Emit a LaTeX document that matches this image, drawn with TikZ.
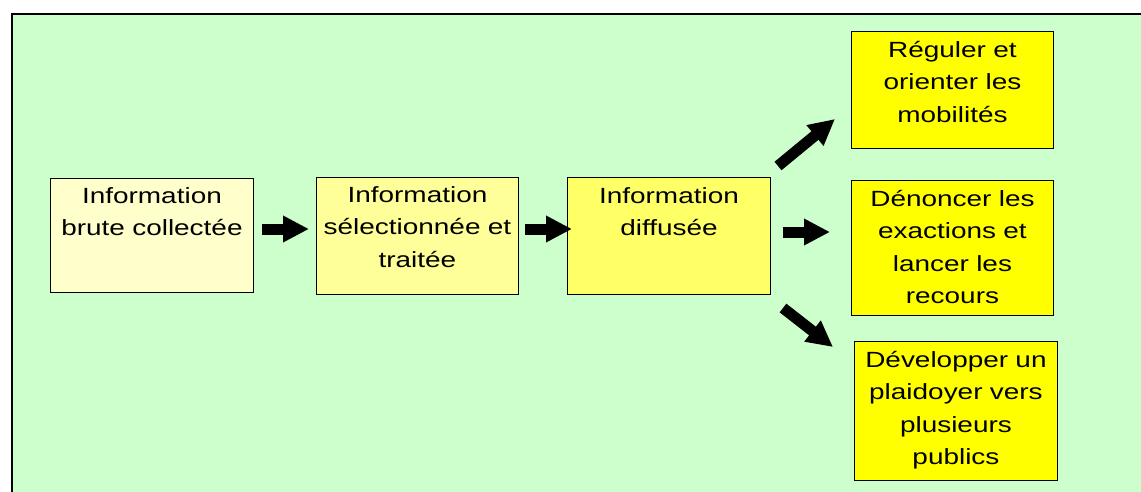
\documentclass[tikz,border=0pt]{standalone}
\usepackage{fontspec}
\setmainfont{Liberation Sans}
\newfontfamily\boxfont[FakeStretch=1.27]{Liberation Sans}
\usetikzlibrary{arrows.meta,calc}
\definecolor{bggreen}{HTML}{CCFFCC}
\definecolor{fillA}{HTML}{FFFFCC}
\definecolor{fillB}{HTML}{FFFF99}
\definecolor{fillC}{HTML}{FFFF66}
\definecolor{fillD}{HTML}{FFFF00}
\begin{document}
\begin{tikzpicture}[x=1pt,y=-1pt,
  box/.style={draw=black,line width=0.9pt,inner sep=0pt,anchor=north west},
  lbl/.style={anchor=base,align=center,text width=210pt,inner sep=0pt,font=\boxfont\fontsize{22}{32.5}\selectfont},
  blockarrow/.style={line width=11pt,-{Triangle[length=26pt,width=25pt]}}]
\useasboundingbox (0,0) rectangle (1141,491);
\clip (0,0) rectangle (1141,491);
\draw[fill=bggreen,line width=1.5pt] (12,14) rectangle (1150,500);
% boxes
\node[box,fill=fillA,minimum width=203pt,minimum height=114pt] (b1) at (50,178) {};
\node[box,fill=fillB,minimum width=202pt,minimum height=117pt] (b2) at (316,177) {};
\node[box,fill=fillC,minimum width=203pt,minimum height=117pt] (b3) at (567,177) {};
\node[box,fill=fillD,minimum width=202pt,minimum height=117pt] (b4) at (851,31) {};
\node[box,fill=fillD,minimum width=202pt,minimum height=135pt] (b5) at (851,180) {};
\node[box,fill=fillD,minimum width=203pt,minimum height=139pt] (b6) at (854,341) {};
% labels
\node[lbl] (t1) at ($(b1.north)+(0,25)$) {Information\\brute collectée};
\node[lbl] (t2) at ($(b2.north)+(0,25)$) {Information\\sélectionnée et\\traitée};
\node[lbl] (t3) at ($(b3.north)+(0,26)$) {Information\\diffusée};
\node[lbl] (t4) at ($(b4.north)+(0,26)$) {Réguler et\\orienter les\\mobilités};
\node[lbl] (t5) at ($(b5.north)+(0,26)$) {Dénoncer les\\exactions et\\lancer les\\recours};
\node[lbl] (t6) at ($(b6.north)+(0,26)$) {Développer un\\plaidoyer vers\\plusieurs\\publics};
% arrows
\coordinate (a1s) at (262,229);
\coordinate (a1e) at (309,229);
\coordinate (a2s) at (525,229);
\coordinate (a2e) at (572,229);
\coordinate (a3s) at (783,232);
\coordinate (a3e) at (830,232);
\coordinate (a4s) at (778,166);
\coordinate (a4e) at (835,119);
\coordinate (a5s) at (783,308);
\coordinate (a5e) at (833,347);
\draw[blockarrow] (a1s) -- (a1e);
\draw[blockarrow] (a2s) -- (a2e);
\draw[blockarrow] (a3s) -- (a3e);
\draw[blockarrow] (a4s) -- (a4e);
\draw[blockarrow] (a5s) -- (a5e);
\end{tikzpicture}
\end{document}
